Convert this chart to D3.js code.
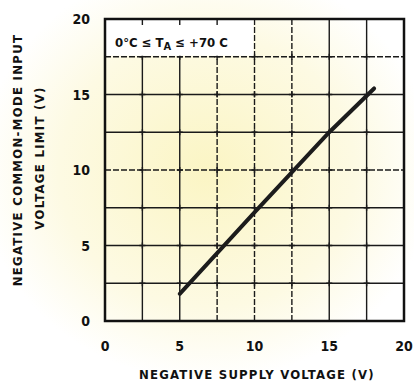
<!DOCTYPE html>
<html>
<head>
<meta charset="utf-8">
<script src="https://cdn.jsdelivr.net/npm/d3@7"></script>
<style>
  html, body { margin: 0; padding: 0; background: #fff; }
  svg text { font-family: "Liberation Sans Narrow", "DejaVu Sans Condensed", sans-serif; font-weight: bold; fill: #111; }
</style>
</head>
<body>
<svg id="chart"></svg>
<script>
// data
const supplyVoltage = [5, 10, 15, 18];
const inputLimit = [1.8, 7.2, 12.5, 15.4];
const tickValues = [0, 5, 10, 15, 20];
const gridValues = [2.5, 5, 7.5, 10, 12.5, 15, 17.5];
const dashedX = [7.5, 10, 12.5];
const dashedY = [10, 17.5];

const W = 414, H = 381;
const margin = {top: 19, right: 10, bottom: 60, left: 105};
const width = W - margin.left - margin.right;
const height = H - margin.top - margin.bottom;

const svg = d3.select('#chart').attr('width', W).attr('height', H);

// faint yellow tint of the scan
const defs = svg.append('defs');
const grad = defs.append('radialGradient').attr('id', 'tint')
  .attr('cx', '50%').attr('cy', '45%').attr('r', '55%');
grad.append('stop').attr('offset', '0%').attr('stop-color', '#fbf5c4');
grad.append('stop').attr('offset', '65%').attr('stop-color', '#fdfae3');
grad.append('stop').attr('offset', '100%').attr('stop-color', '#ffffff');
svg.append('rect').attr('width', W).attr('height', H).attr('fill', 'url(#tint)');

const chart = svg.append('g').attr('transform', `translate(${margin.left},${margin.top})`);

const x = d3.scaleLinear().domain([0, 20]).range([0, width]);
const y = d3.scaleLinear().domain([0, 20]).range([height, 0]);

/******** grid ********/
chart.selectAll('.vgrid').data(gridValues).join('line')
  .attr('x1', d => x(d)).attr('x2', d => x(d))
  .attr('y1', 0).attr('y2', height)
  .attr('stroke', '#1a1a1a').attr('stroke-width', 1.4)
  .attr('stroke-dasharray', d => dashedX.includes(d) ? '6,2' : null);

chart.selectAll('.hgrid').data(gridValues).join('line')
  .attr('y1', d => y(d)).attr('y2', d => y(d))
  .attr('x1', 0).attr('x2', width)
  .attr('stroke', '#1a1a1a').attr('stroke-width', 1.4)
  .attr('stroke-dasharray', d => dashedY.includes(d) ? '6,2' : null);

// small crosses at each intersection
const crosses = [];
gridValues.forEach(a => gridValues.forEach(b => crosses.push([a, b])));
chart.selectAll('.cross').data(crosses).join('path')
  .attr('d', d => `M${x(d[0]) - 3},${y(d[1])}h6M${x(d[0])},${y(d[1]) - 3}v6`)
  .attr('stroke', '#1a1a1a').attr('stroke-width', 1.4);

/******** annotation box ********/
chart.append('rect')
  .attr('x', 1).attr('y', 1)
  .attr('width', x(10) - 2).attr('height', y(17.5) - 2)
  .attr('fill', '#fff');
chart.selectAll('.topTick').data([2.5, 5, 7.5]).join('line')
  .attr('x1', d => x(d)).attr('x2', d => x(d))
  .attr('y1', 0).attr('y2', 6)
  .attr('stroke', '#1a1a1a').attr('stroke-width', 1.4);

const note = chart.append('text')
  .attr('x', 10).attr('y', 28)
  .style('font-size', '13px');
note.append('tspan').text('0°C ≤ T');
note.append('tspan').attr('dy', 3).style('font-size', '11px').text('A');
note.append('tspan').attr('dy', -3).text(' ≤ +70 C');

/******** frame ********/
chart.append('rect')
  .attr('width', width).attr('height', height)
  .attr('fill', 'none').attr('stroke', '#111').attr('stroke-width', 2.5);

/******** data line ********/
const line = d3.line()
  .x((d, i) => x(supplyVoltage[i]))
  .y(d => y(d));

chart.append('path')
  .datum(inputLimit)
  .attr('d', line)
  .attr('fill', 'none')
  .attr('stroke', '#1c1c1c')
  .attr('stroke-width', 4)
  .attr('stroke-linecap', 'round');

/******** tick labels ********/
chart.selectAll('.xlab').data(tickValues).join('text')
  .attr('x', d => x(d)).attr('y', height + 30)
  .attr('text-anchor', 'middle')
  .style('font-size', '14px')
  .text(d => d);

chart.selectAll('.ylab').data(tickValues).join('text')
  .attr('x', -15).attr('y', d => y(d) + 5)
  .attr('text-anchor', 'end')
  .style('font-size', '14px')
  .text(d => d);

/******** titles ********/
svg.append('text')
  .attr('x', 257).attr('y', 379)
  .attr('text-anchor', 'middle')
  .style('font-size', '13px')
  .style('letter-spacing', '1.2px')
  .text('NEGATIVE SUPPLY VOLTAGE (V)');

svg.append('text')
  .attr('transform', 'translate(22,160) rotate(-90)')
  .attr('text-anchor', 'middle')
  .style('font-size', '13px')
  .style('letter-spacing', '1.3px')
  .text('NEGATIVE COMMON-MODE INPUT');

svg.append('text')
  .attr('transform', 'translate(44,158) rotate(-90)')
  .attr('text-anchor', 'middle')
  .style('font-size', '13px')
  .style('letter-spacing', '1.3px')
  .text('VOLTAGE LIMIT (V)');
</script>
</body>
</html>
